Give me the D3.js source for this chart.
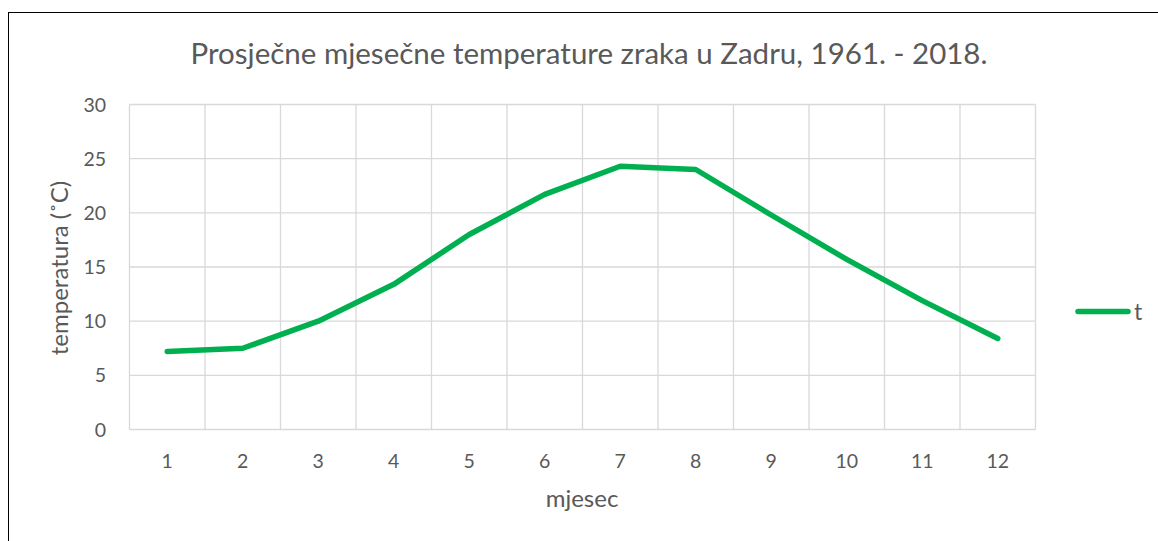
<!DOCTYPE html>
<html>
<head>
<meta charset="utf-8"/>
<title>Prosječne mjesečne temperature zraka u Zadru</title>
<script src="https://cdn.jsdelivr.net/npm/d3@7"></script>
<style>
  html, body { margin: 0; padding: 0; background: #fff; }
  svg text { font-family: "Lato", "Open Sans", sans-serif; fill: #595959; }
</style>
</head>
<body>
<div id="chart"></div>
<script>
// data
var months = ["1", "2", "3", "4", "5", "6", "7", "8", "9", "10", "11", "12"];
var temps = [7.2, 7.5, 10.0, 13.4, 18.0, 21.7, 24.3, 24.0, 19.8, 15.7, 11.9, 8.4];
var yTicks = [0, 5, 10, 15, 20, 25, 30];
var seriesName = "t";

var W = 1158, H = 541;
var plot = { left: 129.5, right: 1035.5, top: 104.5, bottom: 429.5 };

var svg = d3.select("#chart").append("svg")
  .attr("width", W).attr("height", H);

// outer frame (only left and top edges show in the picture)
svg.append("rect")
  .attr("x", 8.5).attr("y", 12.5)
  .attr("width", W + 20).attr("height", H + 20)
  .attr("fill", "#fff").attr("stroke", "#000").attr("stroke-width", 1);

var x = d3.scaleBand().domain(months).range([plot.left, plot.right]).padding(0);
var y = d3.scaleLinear().domain([0, 30]).range([plot.bottom, plot.top]);

var grid = svg.append("g").attr("stroke", "#d9d9d9").attr("stroke-width", 1.3);

// horizontal gridlines
grid.selectAll("line.h").data(yTicks).enter().append("line")
  .attr("x1", plot.left).attr("x2", plot.right)
  .attr("y1", function(d) { return y(d); })
  .attr("y2", function(d) { return y(d); });

// vertical gridlines on category boundaries
var bounds = months.map(function(m) { return x(m); }).concat([plot.right]);
grid.selectAll("line.v").data(bounds).enter().append("line")
  .attr("x1", function(d) { return d; }).attr("x2", function(d) { return d; })
  .attr("y1", plot.top).attr("y2", plot.bottom);

// y tick labels
svg.append("g").selectAll("text").data(yTicks).enter().append("text")
  .attr("x", 106).attr("y", function(d) { return y(d) + 7; })
  .attr("text-anchor", "end").attr("font-size", 19.5)
  .text(function(d) { return d; });

// x tick labels
svg.append("g").selectAll("text").data(months).enter().append("text")
  .attr("x", function(d) { return x(d) + x.bandwidth() / 2; })
  .attr("y", 468).attr("text-anchor", "middle").attr("font-size", 19.5)
  .text(function(d) { return d; });

// the series line
var line = d3.line()
  .x(function(d, i) { return x(months[i]) + x.bandwidth() / 2; })
  .y(function(d) { return y(d); });

svg.append("path").datum(temps)
  .attr("d", line)
  .attr("fill", "none").attr("stroke", "#00b050")
  .attr("stroke-width", 5.5)
  .attr("stroke-linejoin", "round").attr("stroke-linecap", "round");

// titles
svg.append("text").attr("x", 589).attr("y", 64)
  .attr("text-anchor", "middle").attr("font-size", 29.5)
  .text("Prosječne mjesečne temperature zraka u Zadru, 1961. - 2018.");

svg.append("text").attr("x", 582).attr("y", 507)
  .attr("text-anchor", "middle").attr("font-size", 24)
  .text("mjesec");

svg.append("text")
  .attr("transform", "translate(68,268) rotate(-90)")
  .attr("text-anchor", "middle").attr("font-size", 24)
  .text("temperatura (˚C)");

// legend
var lg = svg.append("g");
lg.append("line").attr("x1", 1078).attr("x2", 1128)
  .attr("y1", 311.5).attr("y2", 311.5)
  .attr("stroke", "#00b050").attr("stroke-width", 5.5).attr("stroke-linecap", "round");
lg.append("text").attr("x", 1134).attr("y", 320).attr("font-size", 23).text(seriesName);
</script>
</body>
</html>
